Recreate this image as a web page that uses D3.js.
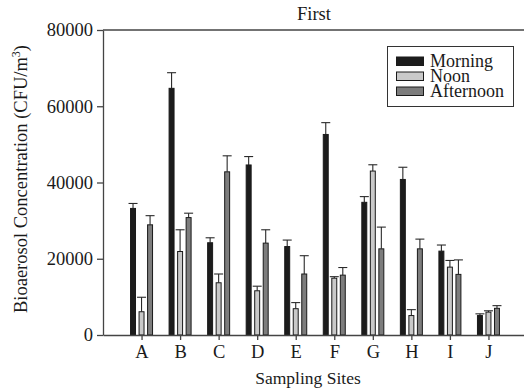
<!DOCTYPE html>
<head>
  <meta charset="utf-8" />
  <script src="https://d3js.org/d3.v7.min.js"></script>
  <style>
    body { margin: 0; background: #fff; }
    svg text { font-family: "Liberation Serif", "Times New Roman", Times, "DejaVu Serif", "Noto Serif", serif !important; fill: #1a1a1a; }
  </style>
</head>
<body>
  <div id="chart"></div>
  <script>
    // donnees
    const sites = ["A", "B", "C", "D", "E", "F", "G", "H", "I", "J"];
    const periods = ["Morning", "Noon", "Afternoon"];
    const morning = [33200, 64700, 24200, 44600, 23200, 52600, 34800, 40800, 22000, 5100];
    const noon = [6100, 21900, 13700, 11600, 6900, 14900, 43000, 5100, 17800, 6000];
    const afternoon = [28900, 30800, 42800, 24100, 16000, 15700, 22600, 22600, 15900, 7000];
    const morningErr = [1300, 4100, 1300, 2200, 1700, 3100, 1500, 3200, 1600, 450];
    const noonErr = [3800, 5700, 2300, 1200, 1600, 400, 1650, 1550, 1750, 350];
    const afternoonErr = [2400, 1150, 4200, 3500, 4800, 2000, 5700, 2550, 3800, 700];
    const yTicks = [0, 20000, 40000, 60000, 80000];

    const colors = ["#1c1c1c", "#c9c9c9", "#7d7d7d"];
    const width = 524, height = 392;
    const mLeft = 103, mTop = 30, mBottom = 335;

    const svg = d3.select("#chart").append("svg")
      .attr("width", width)
      .attr("height", height);

    const x = d3.scaleLinear().domain([0, 11]).range([mLeft, 527]);
    const y = d3.scaleLinear().domain([0, 80000]).range([mBottom, mTop]);

    // offset des barres dans un groupe
    const offset = d3.scaleBand().domain(periods).range([-11.5, 11.5]).paddingInner(0.3);

    const series = [morning, noon, afternoon];
    const errors = [morningErr, noonErr, afternoonErr];

    const data = [];
    sites.forEach(function (s, i) {
      periods.forEach(function (p, k) {
        data.push({ site: s, idx: i + 1, period: p, k: k, value: series[k][i], err: errors[k][i] });
      });
    });

    // barres d'erreur (vers le haut seulement)
    const err = svg.append("g")
      .attr("stroke", "#2a2a2a")
      .attr("stroke-width", 1.1);

    err.selectAll("line.v")
      .data(data)
      .join("line")
      .attr("class", "v")
      .attr("x1", d => x(d.idx) + offset(d.period) + offset.bandwidth() / 2)
      .attr("x2", d => x(d.idx) + offset(d.period) + offset.bandwidth() / 2)
      .attr("y1", d => y(d.value))
      .attr("y2", d => y(d.value + d.err));

    err.selectAll("line.cap")
      .data(data)
      .join("line")
      .attr("class", "cap")
      .attr("x1", d => x(d.idx) + offset(d.period) + offset.bandwidth() / 2 - 4.5)
      .attr("x2", d => x(d.idx) + offset(d.period) + offset.bandwidth() / 2 + 4.5)
      .attr("y1", d => y(d.value + d.err))
      .attr("y2", d => y(d.value + d.err));

    svg.append("g")
      .selectAll("rect")
      .data(data)
      .join("rect")
      .attr("x", d => x(d.idx) + offset(d.period) + 0.5)
      .attr("y", d => y(d.value))
      .attr("width", offset.bandwidth() - 1)
      .attr("height", d => mBottom - y(d.value))
      .attr("fill", d => colors[d.k])
      .attr("stroke", "#1a1a1a")
      .attr("stroke-width", 1);

    // axes
    const yAxis = svg.append("g")
      .attr("transform", "translate(" + mLeft + ",0)")
      .call(d3.axisLeft(y).tickValues(yTicks).tickFormat(d3.format("d")).tickSize(6).tickPadding(4).tickSizeOuter(0));

    const xAxis = svg.append("g")
      .attr("transform", "translate(0," + mBottom + ")")
      .call(d3.axisBottom(x).tickValues(d3.range(1, 11)).tickFormat(d => sites[d - 1]).tickSize(5).tickPadding(5).tickSizeOuter(0));

    [yAxis, xAxis].forEach(function (a) {
      a.attr("font-family", null);
      a.selectAll("path, line").attr("stroke", "#444").attr("stroke-width", 1.3);
      a.selectAll("text")
        .style("font-size", "18.5px")
        .attr("fill", "#1a1a1a");
    });

    // ligne du haut
    svg.append("line")
      .attr("x1", mLeft).attr("x2", width)
      .attr("y1", mTop).attr("y2", mTop)
      .attr("stroke", "#444").attr("stroke-width", 1.3);

    svg.append("text")
      .attr("x", 314).attr("y", 20)
      .attr("text-anchor", "middle")
      .style("font-size", "18.5px")
      .text("First");

    svg.append("text")
      .attr("x", 308).attr("y", 384)
      .attr("text-anchor", "middle")
      .style("font-size", "17.5px")
      .text("Sampling Sites");

    const yl = svg.append("text")
      .attr("transform", "translate(27,179) rotate(-90)")
      .attr("text-anchor", "middle")
      .style("font-size", "18.5px");
    yl.append("tspan").text("Bioaerosol Concentration (CFU/m");
    yl.append("tspan").attr("dy", -7).style("font-size", "12px").text("3");
    yl.append("tspan").attr("dy", 7).text(")");

    // legende
    const lg = svg.append("g");
    lg.append("rect")
      .attr("x", 387.5).attr("y", 46.5)
      .attr("width", 126).attr("height", 60)
      .attr("fill", "#fff").attr("stroke", "#333").attr("stroke-width", 1);

    const item = lg.selectAll("g.item")
      .data(periods)
      .join("g")
      .attr("class", "item")
      .attr("transform", (d, i) => "translate(0," + (57 + i * 15) + ")");

    item.append("rect")
      .attr("x", 396.5).attr("y", 0)
      .attr("width", 27).attr("height", 8.5)
      .attr("fill", (d, i) => colors[i])
      .attr("stroke", "#1a1a1a").attr("stroke-width", 1);

    item.append("text")
      .attr("x", 430).attr("y", 9.5)
      .style("font-size", "18px")
      .text(d => d);
  </script>
</body>
